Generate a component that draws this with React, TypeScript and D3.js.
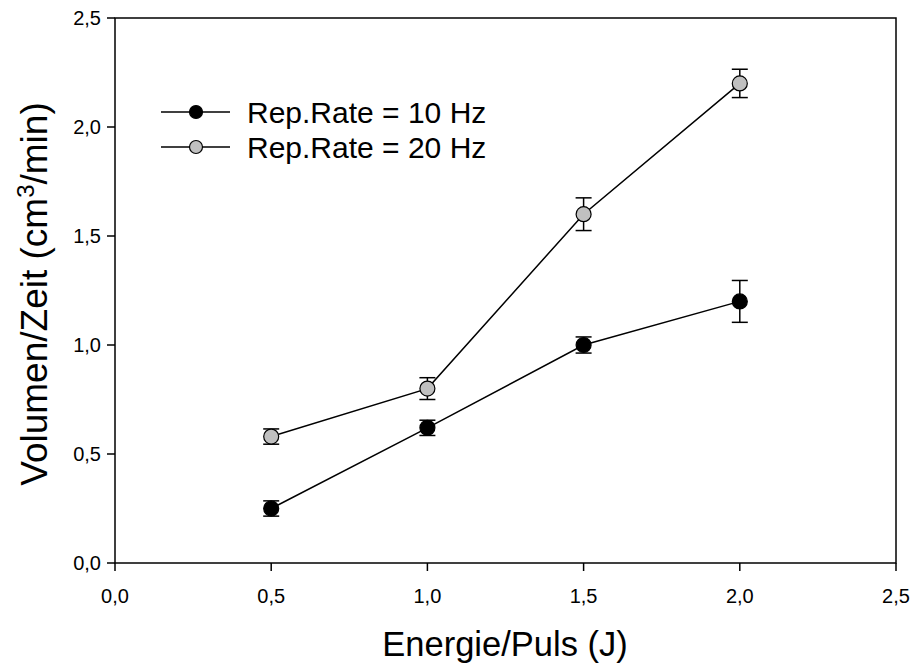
import React from "react";
import * as d3 from "d3";

const energy = [0.5, 1.0, 1.5, 2.0];
const rate10 = [0.25, 0.62, 1.0, 1.2];
const err10 = [0.035, 0.035, 0.037, 0.096];
const rate20 = [0.58, 0.8, 1.6, 2.2];
const err20 = [0.035, 0.05, 0.075, 0.065];
const xTicks = [0, 0.5, 1.0, 1.5, 2.0, 2.5];
const yTicks = [0, 0.5, 1.0, 1.5, 2.0, 2.5];
const seriesNames = ["Rep.Rate = 10 Hz", "Rep.Rate = 20 Hz"];
const seriesFill = ["#000000", "#c0c0c0"];

const W = 912;
const H = 666;
const L = 115, R = 896, T = 18, B = 563;
const font = "'Liberation Sans', Arial, sans-serif";

export default function App() {
  const x = d3.scaleLinear().domain([0, 2.5]).range([L, R]);
  const y = d3.scaleLinear().domain([0, 2.5]).range([B, T]);
  const line = d3.line<[number, number]>().x(d => x(d[0])).y(d => y(d[1]));
  const fmt = (v: number) => v.toFixed(1).replace(".", ",");
  const series = [
    { vals: rate10, errs: err10, fill: seriesFill[0] },
    { vals: rate20, errs: err20, fill: seriesFill[1] },
  ];
  return (
    <svg width={W} height={H} style={{ position: "absolute", left: 0, top: 0, background: "#fff" }} fontFamily={font}>
      <rect x={0} y={0} width={W} height={H} fill="#fff" />
      <rect x={L} y={T} width={R - L} height={B - T} fill="none" stroke="#000" strokeWidth={1.5} />
      {xTicks.map(t => (
        <g key={"x" + t}>
          <line x1={x(t)} x2={x(t)} y1={B} y2={B + 8} stroke="#000" strokeWidth={1.5} />
          <text x={x(t)} y={B + 40} fontSize={20} textAnchor="middle">{fmt(t)}</text>
        </g>
      ))}
      {yTicks.map(t => (
        <g key={"y" + t}>
          <line x1={L - 8} x2={L} y1={y(t)} y2={y(t)} stroke="#000" strokeWidth={1.5} />
          <text x={L - 14} y={y(t) + 7} fontSize={20} textAnchor="end">{fmt(t)}</text>
        </g>
      ))}
      {series.map((s, i) => (
        <g key={"s" + i}>
          <path d={line(energy.map((e, j) => [e, s.vals[j]]) as [number, number][]) || ""} fill="none" stroke="#000" strokeWidth={1.5} />
          {energy.map((e, j) => (
            <g key={j}>
              <line x1={x(e)} x2={x(e)} y1={y(s.vals[j] - s.errs[j])} y2={y(s.vals[j] + s.errs[j])} stroke="#000" strokeWidth={1.5} />
              <line x1={x(e) - 8} x2={x(e) + 8} y1={y(s.vals[j] - s.errs[j])} y2={y(s.vals[j] - s.errs[j])} stroke="#000" strokeWidth={1.5} />
              <line x1={x(e) - 8} x2={x(e) + 8} y1={y(s.vals[j] + s.errs[j])} y2={y(s.vals[j] + s.errs[j])} stroke="#000" strokeWidth={1.5} />
              <circle cx={x(e)} cy={y(s.vals[j])} r={7.5} fill={s.fill} stroke="#000" strokeWidth={1.2} />
            </g>
          ))}
        </g>
      ))}
      {seriesNames.map((n, i) => (
        <g key={"l" + i} transform={`translate(0, ${112 + i * 35})`}>
          <line x1={161} x2={230} y1={0} y2={0} stroke="#000" strokeWidth={1.5} />
          <circle cx={196} cy={0} r={6.5} fill={seriesFill[i]} stroke="#000" strokeWidth={1.2} />
          <text x={247} y={10.5} fontSize={30}>{n}</text>
        </g>
      ))}
      <text x={505} y={656} fontSize={34.5} textAnchor="middle">Energie/Puls (J)</text>
      <text transform={`translate(47, 294) rotate(-90)`} fontSize={37} textAnchor="middle">
        Volumen/Zeit (cm<tspan dy={-13} fontSize={24}>3</tspan><tspan dy={13}>/min)</tspan>
      </text>
    </svg>
  );
}
